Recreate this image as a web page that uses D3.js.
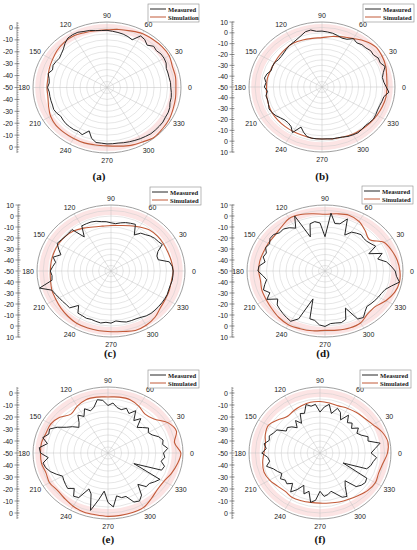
<!DOCTYPE html>
<html><head><meta charset="utf-8">
<script src="https://cdn.jsdelivr.net/npm/d3@7"></script>
<style>body{margin:0;background:#fff}</style>
</head><body>
<svg id="c" width="417" height="550"></svg>
<script>
// ---------- DATA ----------
const measAngles = [0,5,10,15,20,25,30,35,40,45,50,55,60,65,70,75,80,85,90,95,100,105,110,115,120,125,130,135,140,145,150,155,160,165,170,175,180,185,190,195,200,205,210,215,220,225,230,235,240,245,250,255,260,265,270,275,280,285,290,295,300,305,310,315,320,325,330,335,340,345,350,355];
const simAngles = [0,10,20,30,40,50,60,70,80,90,100,110,120,130,140,150,160,170,180,190,200,210,220,230,240,250,260,270,280,290,300,310,320,330,340,350];
const angleLabels = [0,30,60,90,120,150,180,210,240,270,300,330];

const measuredA = [-2.6,-2.6,-3.1,-3.1,-3.1,-1.5,-1,-1,-2,-1,-3.6,-1,0,-5.8,-4.5,-3.6,-3.1,-2.6,-2,-2,-1.5,-0.4,0.1,1.2,1.2,0.7,-1.5,-4.2,-5.8,-6.9,-6.3,-5.8,-6.9,-4.7,-6.3,-6.9,-5.8,-6.9,-6.9,-6.9,-6.9,-6.3,-6.9,-8,-7.4,-6.9,-6.9,-6.9,-7.4,-6.3,-11.2,-5.8,-3.1,-3.1,-2.6,-2.6,-2.6,-2,-1.5,-1,-0.4,0.1,0.7,0.7,0.7,0.7,0.1,0.1,-0.4,-1.5,-1.5,-2];
const simulatedA = [1.2,1.7,1.7,3.4,3.4,2.8,2.3,0.6,-0.5,-1.6,-1.6,-1,0,-0.5,-1.6,-3.2,-4.3,-5.4,-5.4,-5.4,-3.8,-1.6,-0.5,-0.5,-0.5,-0.5,-1,-1,0,1.7,2.8,4.5,3.9,3.4,2.3,1.7];

const measuredB = [2.8,1,0.4,2.2,5.2,2.8,3.4,1.6,2.2,1,1,-0.2,1.6,-1.4,-2,-0.8,0.4,1,1.6,1.6,3.4,2.8,0.4,-1.4,-2.6,-3.2,-4.4,-5.6,-6.2,-6.2,-5,-5,-5.6,-3.2,-2,-3.8,-2.6,-5,-3.2,-3.8,-3.2,-2,-2.6,-3.8,-5.6,-6.8,-6.8,-5.6,-1.4,-9.2,-5.6,-2.6,-2,-2,-2,-2,-1.4,-1.4,-0.8,0.4,1,1.6,1,0.4,1,1.6,1,0.4,0.4,1,1.6,5.2];
const simulatedB = [3.4,4,5.8,7,7.6,5.2,1.6,-0.8,-2.6,-4.4,-4.4,-3.8,-3.2,-3.8,-4.4,-5,-5,-4.4,-4.4,-3.8,-3.2,-2.6,-2.6,-2.6,-2.6,-2.6,-2,-2,-1.4,-0.8,0.4,1,1.6,2.2,2.8,3.4];

const measuredC = [0.4,-0.2,-2,-10.4,-10.4,-8,-2,-3.2,-3.8,-5,-6.8,-8,-12.2,-3.2,-3.8,-4.4,-5.6,-6.8,-6.2,-5,-4.4,-3.2,-2.6,-2.6,-2.6,-12.2,-0.8,-1.4,-1.4,-0.8,0.4,-3.2,-6.8,-1.4,-4.4,-2.6,-0.8,-2,-1.4,10,1,-0.2,-1.4,-2,-2.6,-2.6,-9.2,-3.2,-3.2,-2.6,-3.2,-2.6,-2,-3.2,-2.6,-4.4,-3.2,-2,-2,-2,-1.4,-0.2,0.4,0.4,0.4,0.4,0.4,0.4,-0.2,-0.2,0.4,0.4];
const simulatedC = [0.4,-0.2,-0.8,-0.8,-0.8,-1.4,-3.8,-6.2,-8,-8.6,-8.6,-7.4,-5,-2.6,-1.4,-0.8,-0.8,-0.8,-0.8,-0.2,1,1.6,2.8,4,5.2,5.2,5.2,5.2,5.8,7.6,7,5.2,2.2,1,0.4,-0.2];

const measuredD = [4,1,-2,-8,-3.2,-12.8,-5,-6.8,-8,-8,-6.8,-8,-9.2,-14,0.4,-5.6,-6.2,2.8,-18.8,-6.2,-4.4,-5.6,-17,5.2,-5,-2,-0.2,-0.8,1.6,1.6,-0.8,0.4,-2,-0.8,-3.2,1,1.6,-2,-4.4,-2,0.4,-3.2,1.6,-5.6,-2,-0.8,0.4,1.6,2.8,-2,-23,-5,-4.4,-0.8,0.4,-2,-2,-1.4,-3.2,-12.8,0.4,1.6,-2,-4.4,-3.8,-3.2,-2.6,-2,-0.8,2.8,8.2,5.2];
const simulatedD = [7.6,6.4,4.6,2.2,-5.5,-2,2.2,4,2.8,1.6,2.8,4.6,5.2,2.2,0.4,0.4,0.4,1,1,0.4,1.6,2.2,3.4,5.2,6.4,5.8,5.2,4,4.6,5.2,4.6,1,0.4,4,7,8.2];

const measuredE = [-9.3,-6,-9.3,-8.2,-10.4,-14.3,-15.9,-13.7,-17,-19.8,-12.6,-17,-9.3,-13.7,-10.4,-12.6,-11.5,-8.2,-10.4,-6,-4.9,-10.4,-12.6,-9.3,-14.8,-11.5,-17,-19.8,-15.9,-12.6,-7.1,-2.7,-3.8,-0.5,-4.9,0.6,-0.5,-6,-1.6,-2.7,-4.9,-8.2,-11.5,-10.4,-9.3,-8.2,-11.5,-6,-7.1,-17,-13.7,-0.5,-10.4,-18.1,-8.8,-4.9,-13.7,-11.5,-11.5,-4.9,-3.8,-7.1,-15.9,-10.4,-10.4,-8.2,-6,-29.1,-8.2,-7.1,-10.4,-8.2];
const simulatedE = [3.4,-0.5,3.4,0.6,-6,-7.7,-4.9,-2.7,-2.7,-3.3,-2.7,-2.7,-4.9,-7.7,-3.8,-1.6,-1.6,-0.5,-0.5,-0.5,-1.6,-0.5,-1.6,-0.5,1.2,2.3,2.3,2.8,2.8,2.8,2.3,-0.5,-2.7,-2.7,-0.5,1.7];

const measuredF = [-10.4,-7.1,-2.7,-11.5,-10.4,-14.8,-17,-13.7,-18.1,-14.8,-17,-11.5,-18.1,-12.6,-10.4,-15.9,-8.8,-11.5,-15.9,-9.3,-10.4,-8.2,-14.8,-13.7,-21.4,-17,-22.5,-19.2,-17,-18.1,-11.5,-10.4,-8.2,-9.3,-6,-8.2,-4.9,-9.3,-10.4,-7.1,-11.5,-13.7,-15.9,-12.6,-14.8,-13.7,-17,-10.4,-14.8,-20.3,-13.7,-17,-8.2,-10.4,-18.1,-13.7,-14.8,-17,-13.7,-9.3,-8.2,-15.9,-19.8,-10.4,-8.2,-7.1,-8.2,-30.2,-11.5,-9.3,-8.2,-6];
const simulatedF = [2.3,3.4,1.2,-2.7,-4.9,-6,-7.1,-8.2,-7.7,-7.1,-7.1,-8.2,-9.3,-10.4,-7.1,-3.8,-4.9,-7.1,-6.6,-4.9,-3.8,-4.9,-7.1,-8.2,-7.1,-7.7,-8.2,-8.2,-7.7,-6.6,-5.5,-3.8,-1.6,-0.5,-1.6,-0.5];

const seriesNamesA = ["Measured","Simulation"];
const seriesNames = ["Measured","Simulated"];
const captions = ["(a)","(b)","(c)","(d)","(e)","(f)"];

// ---------- LAYOUT ----------
const panels = [
  {meas:measuredA, sim:simulatedA, names:seriesNamesA, cap:captions[0], outer:5,  cx:107, cy:87.5, rx:74, ry:65.5, axisX:17,  lg:[148,4],   capPos:[99,176]},
  {meas:measuredB, sim:simulatedB, names:seriesNames,  cap:captions[1], outer:10, cx:322, cy:87,   rx:73, ry:65,   axisX:232, lg:[363,4],   capPos:[322,176]},
  {meas:measuredC, sim:simulatedC, names:seriesNames,  cap:captions[2], outer:10, cx:111, cy:271,  rx:74, ry:66,   axisX:18,  lg:[150,187], capPos:[110,353]},
  {meas:measuredD, sim:simulatedD, names:seriesNames,  cap:captions[3], outer:10, cx:325, cy:271,  rx:78, ry:66,   axisX:232, lg:[362,186], capPos:[323,353]},
  {meas:measuredE, sim:simulatedE, names:seriesNames,  cap:captions[4], outer:5,  cx:108, cy:453,  rx:75, ry:66,   axisX:17,  lg:[148,370], capPos:[108,539]},
  {meas:measuredF, sim:simulatedF, names:seriesNames,  cap:captions[5], outer:5,  cx:320, cy:453,  rx:71, ry:66,   axisX:232, lg:[360,370], capPos:[320,539]}
];

const MEAS_COLOR = "#262626", SIM_COLOR = "#c25a38";
const svg = d3.select("#c");
const rad = d => d*Math.PI/180;

function ellipsePath(cx, cy, rx, ry){
  return `M${cx-rx},${cy}a${rx},${ry} 0 1,0 ${2*rx},0a${rx},${ry} 0 1,0 ${-2*rx},0Z`;
}

function drawPanel(p){
  const g = svg.append("g");
  const rs = d3.scaleLinear().domain([-50, p.outer]).range([0, 1]);
  const X = (deg, v) => p.cx + p.rx*rs(v)*Math.cos(rad(deg));
  const Y = (deg, v) => p.cy - p.ry*rs(v)*Math.sin(rad(deg));

  // light pink band
  g.append("path")
    .attr("d", ellipsePath(p.cx,p.cy,p.rx*0.97,p.ry*0.97) + ellipsePath(p.cx,p.cy,p.rx*0.85,p.ry*0.85))
    .attr("fill", "#fce4e4").attr("fill-rule","evenodd");

  // rings
  g.selectAll("ellipse.ring").data(d3.range(-45, p.outer, 5)).join("ellipse")
    .attr("cx", p.cx).attr("cy", p.cy)
    .attr("rx", v => p.rx*rs(v)).attr("ry", v => p.ry*rs(v))
    .attr("fill","none").attr("stroke","#cccccc").attr("stroke-width",0.5);

  // spokes
  g.selectAll("line.spoke").data(angleLabels).join("line")
    .attr("x1", p.cx).attr("y1", p.cy)
    .attr("x2", a => X(a, p.outer)).attr("y2", a => Y(a, p.outer))
    .attr("stroke","#c0c0c0").attr("stroke-width",0.5);

  // outer ring
  g.append("ellipse").attr("cx",p.cx).attr("cy",p.cy).attr("rx",p.rx).attr("ry",p.ry)
    .attr("fill","none").attr("stroke","#888").attr("stroke-width",0.8);

  // angle labels
  g.selectAll("text.ang").data(angleLabels).join("text")
    .attr("x", a => p.cx + (p.rx+9)*Math.cos(rad(a)))
    .attr("y", a => p.cy - (p.ry+7)*Math.sin(rad(a)))
    .attr("text-anchor","middle").attr("dominant-baseline","central")
    .attr("font-family","Liberation Sans, Arial, sans-serif").attr("font-size",7).attr("fill","#222")
    .text(a => a);

  // left radial axis
  const ax = g.append("g");
  ax.append("line").attr("x1",p.axisX).attr("x2",p.axisX)
    .attr("y1",p.cy-p.ry).attr("y2",p.cy+p.ry).attr("stroke","#555").attr("stroke-width",0.6);
  const minor = d3.range(-48, p.outer+0.01, 2);
  const minorPos = minor.flatMap(v => [p.cy - p.ry*rs(v), p.cy + p.ry*rs(v)]);
  ax.selectAll("line.mi").data(minorPos).join("line")
    .attr("x1",p.axisX).attr("x2",p.axisX+1.6).attr("y1",d=>d).attr("y2",d=>d)
    .attr("stroke","#555").attr("stroke-width",0.5);
  const major = d3.range(p.outer === 10 ? 10 : 0, -50, -10);
  const majorTicks = [];
  major.forEach(v => majorTicks.push({v, y: p.cy - p.ry*rs(v)}));
  majorTicks.push({v:-50, y:p.cy});
  major.slice().reverse().forEach(v => majorTicks.push({v, y: p.cy + p.ry*rs(v)}));
  ax.selectAll("line.ma").data(majorTicks).join("line")
    .attr("x1",p.axisX-2.5).attr("x2",p.axisX+2.5).attr("y1",d=>d.y).attr("y2",d=>d.y)
    .attr("stroke","#555").attr("stroke-width",0.6);
  ax.selectAll("text").data(majorTicks).join("text")
    .attr("x",p.axisX-4).attr("y",d=>d.y)
    .attr("text-anchor","end").attr("dominant-baseline","central")
    .attr("font-family","Liberation Sans, Arial, sans-serif").attr("font-size",7).attr("fill","#222")
    .text(d => d.v);

  // curves
  const lineM = d3.line().x(d => X(d.a, d.v)).y(d => Y(d.a, d.v)).curve(d3.curveLinearClosed);
  const lineS = d3.line().x(d => X(d.a, d.v)).y(d => Y(d.a, d.v)).curve(d3.curveCatmullRomClosed.alpha(0.5));
  g.append("path").datum(simAngles.map((a,i)=>({a, v:p.sim[i]})))
    .attr("d", lineS).attr("fill","none").attr("stroke",SIM_COLOR).attr("stroke-width",1.1);
  g.append("path").datum(measAngles.map((a,i)=>({a, v:p.meas[i]})))
    .attr("d", lineM).attr("fill","none").attr("stroke",MEAS_COLOR).attr("stroke-width",1).attr("stroke-linejoin","round");

  // legend
  const [lx, ly] = p.lg;
  const lg = g.append("g");
  lg.append("rect").attr("x",lx).attr("y",ly).attr("width",51).attr("height",18)
    .attr("fill","#fff").attr("stroke","#8a8a8a").attr("stroke-width",0.6);
  [MEAS_COLOR, SIM_COLOR].forEach((c,i) => {
    const yy = ly + 5 + i*8;
    lg.append("line").attr("x1",lx+2).attr("x2",lx+18).attr("y1",yy).attr("y2",yy)
      .attr("stroke",c).attr("stroke-width",1);
    lg.append("text").attr("x",lx+20).attr("y",yy).attr("dominant-baseline","central")
      .attr("font-family","Liberation Serif, Times New Roman, serif").attr("font-weight","bold")
      .attr("font-size",6.6).attr("fill","#222").text(p.names[i]);
  });

  // caption
  g.append("text").attr("x",p.capPos[0]).attr("y",p.capPos[1])
    .attr("text-anchor","middle").attr("dominant-baseline","central")
    .attr("font-family","Liberation Serif, Times New Roman, serif").attr("font-weight","bold")
    .attr("font-size",11).attr("fill","#111").text(p.cap);
}

panels.forEach(drawPanel);
</script>
</body></html>
